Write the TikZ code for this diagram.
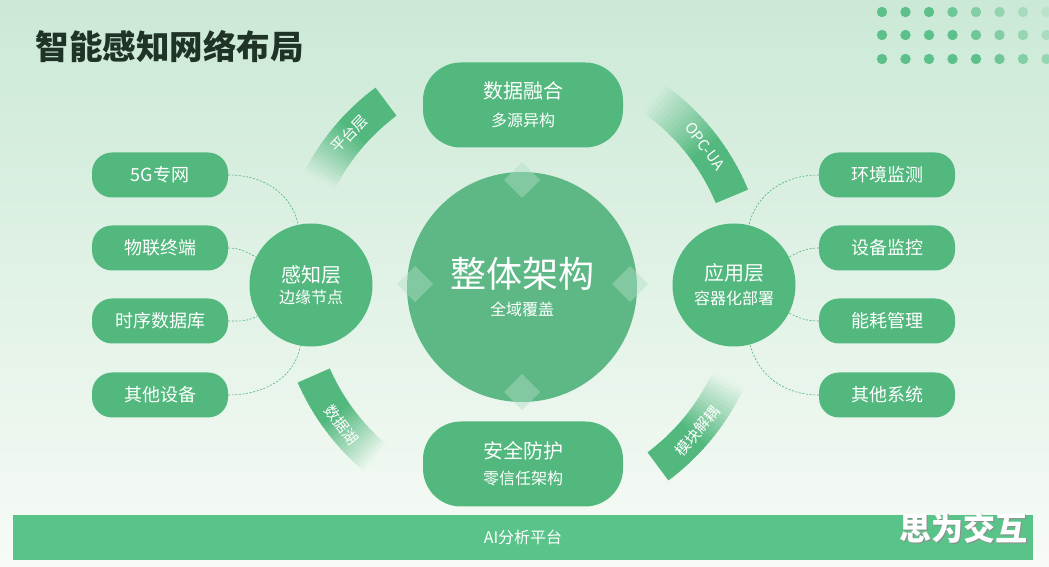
\documentclass[tikz,border=0pt]{standalone}
\usepackage{fontspec}
\setmainfont{Noto Sans CJK SC}

\definecolor{bgtop}{HTML}{CBE9D6}
\definecolor{bgbot}{HTML}{F7FBF6}
\definecolor{boxgreen}{HTML}{52B87E}
\definecolor{coregreen}{HTML}{5DB886}
\definecolor{bargreen}{HTML}{5AC389}
\definecolor{dotgreen}{HTML}{5CC08A}
\definecolor{linegreen}{HTML}{4DB47A}
\definecolor{titlecol}{HTML}{1F3327}

\newcommand{\fsz}[2]{\fontsize{#1}{#2}\selectfont}

\begin{document}
\begin{tikzpicture}[x=1pt, y=1pt,
    item/.style={fill=boxgreen, text=white, rounded corners=20pt, minimum width=136pt, minimum height=45pt, font=\fsz{18}{22}},
    pill/.style={fill=boxgreen, text=white, rounded corners=38pt, minimum width=200pt, minimum height=85pt, align=center},
    hub/.style={circle, fill=boxgreen, text=white, minimum size=123pt, inner sep=0pt, align=center},
    link/.style={linegreen, line width=0.6pt, dash pattern=on 2pt off 1.6pt},
    bandtext/.style={text=white, font=\fsz{15}{18}}]

    \useasboundingbox (0,0) rectangle (1049,567);
    \shade[top color=bgtop, bottom color=bgbot] (0,0) rectangle (1049,567);

    % title and dots
    \node[anchor=west, text=titlecol, font=\fsz{33.5}{38}\bfseries] (title) at (32,520) {智能感知网络布局};
    \foreach \row/\y in {0/555,1/532,2/508}
        \foreach \i in {0,...,7} {
            \pgfmathsetmacro\op{min(1,1-(\i-2-\row)*0.17)}
            \fill[dotgreen, opacity=\op] (882+23.5*\i,\y) circle (5.2);
        }

    % arc bands, faded end first
    \foreach \a/\b/\m/\r/\t in {153/127/139/46/平台层, 55/23/37/-53/OPC-UA,
                              -25/-53/-40/50/模块解耦, 230/204/218/-52/数据湖} {
        \foreach \i in {0,...,27} {
            \pgfmathsetmacro\sa{\a+(\b-\a)*\i/28}
            \pgfmathsetmacro\ea{\a+(\b-\a)*(\i+1.3)/28}
            \pgfmathsetmacro\p{min(100,170*(\i+0.5)/28)}
            \pgfmathsetmacro\q{(283+228*sin(\sa))/5.67}
            \colorlet{bglocal}{bgtop!\q!bgbot}
            \fill[boxgreen!\p!bglocal, shift={(522,283)}]
                (\sa:210) arc[start angle=\sa, end angle=\ea, radius=210]
                -- (\ea:245) arc[start angle=\ea, end angle=\sa, radius=245] -- cycle;
        }
        \node[bandtext, rotate=\r] at ([shift={(\m:229)}]522,283) {\t};
    }

    % centre
    \node[circle, fill=coregreen, minimum size=230pt, text=white, align=center] (core) at (522,280)
        {{\fsz{36}{40}整体架构}\\[10pt]{\fsz{16}{20}全域覆盖}};
    \foreach \p in {(522,387), (522,175), (415,283), (630,283)}
        \fill[boxgreen!45!white, fill opacity=0.45] \p +(-18,0) -- +(0,18) -- +(18,0) -- +(0,-18) -- cycle;

    \node[pill] (fusion) at (523,462) {{\fsz{20}{24}数据融合}\\[12pt]{\fsz{16}{20}多源异构}};
    \node[pill] (safety) at (523,103) {{\fsz{20}{24}安全防护}\\[10pt]{\fsz{16}{20}零信任架构}};

    % left side
    \node[hub] (sense) at (311,282) {{\fsz{20}{24}感知层}\\[5pt]{\fsz{16}{20}边缘节点}};
    \node[item] (g5) at (160,392) {5G专网};
    \node[item] (iot) at (160,319) {物联终端};
    \node[item] (tsdb) at (160,246) {时序数据库};
    \node[item] (ldev) at (160,172) {其他设备};

    \draw[link] (g5.east) to[out=0, in=102] (sense);
    \draw[link] (iot.east) to[out=0, in=153] (sense);
    \draw[link] (tsdb.east) to[out=0, in=210] (sense);
    \draw[link] (ldev.east) to[out=0, in=260] (sense);

    % right side
    \node[hub] (app) at (734,282) {{\fsz{20}{24}应用层}\\[8pt]{\fsz{16}{20}容器化部署}};
    \node[item] (env) at (887,392) {环境监测};
    \node[item] (devmon) at (887,319) {设备监控};
    \node[item] (energy) at (887,246) {能耗管理};
    \node[item] (rsys) at (887,172) {其他系统};

    \draw[link] (env.west) to[out=180, in=76] (app);
    \draw[link] (devmon.west) to[out=180, in=27] (app);
    \draw[link] (energy.west) to[out=180, in=-27] (app);
    \draw[link] (rsys.west) to[out=180, in=-75] (app);

    % bottom bar
    \node[fill=bargreen, text=white, minimum width=1020pt, minimum height=45pt, font=\fsz{16}{20}] (ai) at (523,29.5) {AI分析平台};
    \node[text=black!45, font=\fsz{32}{36}\bfseries] (markshadow) at (964.5,37.5) {思为交互};
    \node[text=white, font=\fsz{32}{36}\bfseries] (mark) at (963,39) {思为交互};

\end{tikzpicture}
\end{document}
